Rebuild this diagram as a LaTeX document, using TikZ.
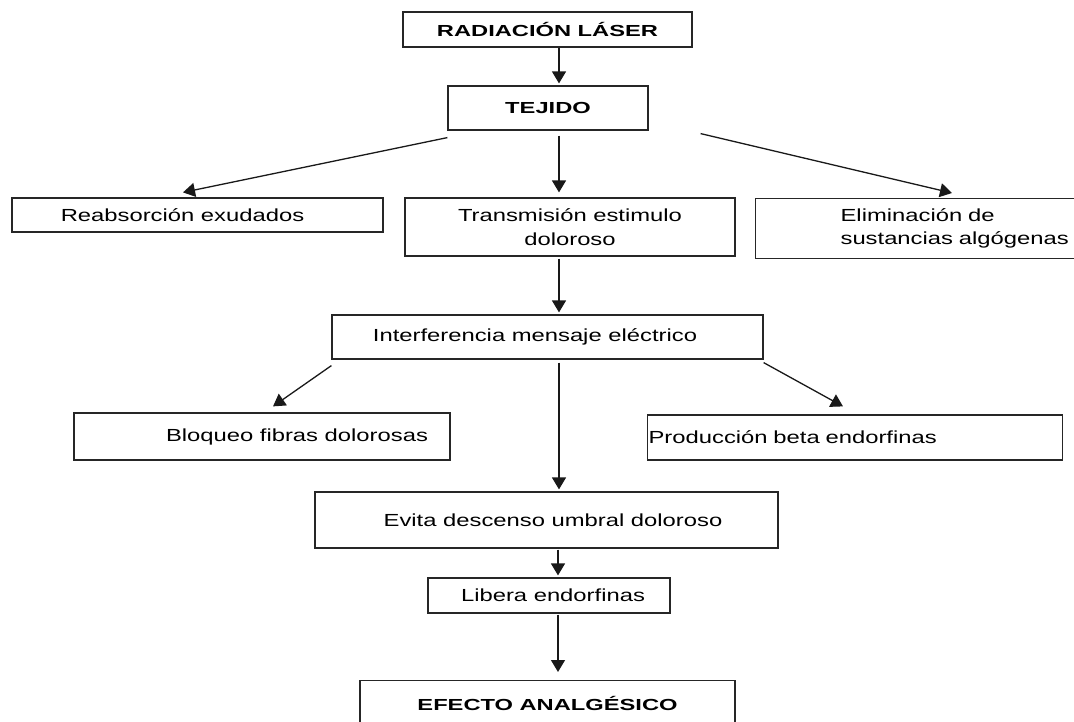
\documentclass[tikz,border=0pt]{standalone}
\usepackage{fontspec}
\setmainfont{Liberation Sans}[FakeStretch=1.36]
\newfontfamily\headfont{Liberation Sans}[FakeStretch=1.48]
\usetikzlibrary{arrows.meta}
\begin{document}
\begin{tikzpicture}[x=1pt,y=-1pt,
  box/.style={draw=black!85, line width=1.2pt, rectangle, inner sep=0pt, text=black,
    font=\fontsize{17.5}{24}\selectfont},
  head/.style={box, font=\headfont\bfseries\fontsize{16}{19}\selectfont},
  arr/.style={draw=black!90, line width=1.3pt, -{Triangle[length=12pt,width=14pt]}}]
\useasboundingbox (0,0) rectangle (1074,722);
\node[head, minimum width=289pt, minimum height=35pt] (rad) at (547.5,29.5) {RADIACIÓN LÁSER};
\node[head, minimum width=200pt, minimum height=44pt] (tej) at (548,108) {TEJIDO};
\node[box, minimum width=371pt, minimum height=34pt] (reab) at (197.5,215) {Reabsorción exudados\hspace*{30pt}};
\node[box, minimum width=330pt, minimum height=58pt, align=center] (trans) at (570,227) {Transmisión estimulo\\doloroso};
\node[box, anchor=north west, text width=345pt, minimum height=60pt, align=left,
  font=\fontsize{17.5}{23}\selectfont] (elim) at (755,198) {\hspace*{85pt}Eliminación de\\\hspace*{85pt}sustancias algógenas};
\node[box, minimum width=431pt, minimum height=44pt] (interf) at (547.5,337) {Interferencia mensaje eléctrico\hspace*{25pt}};
\node[box, minimum width=376pt, minimum height=47pt] (bloq) at (262,436.5) {\hspace*{70pt}Bloqueo fibras dolorosas};
\node[box, anchor=west, text width=415pt, minimum height=45pt, align=left] (prod) at (647,437.5) {\hspace*{1pt}Producción beta endorfinas};
\node[box, minimum width=463pt, minimum height=56pt] (evita) at (546.5,520) {\hspace*{13pt}Evita descenso umbral doloroso};
\node[box, minimum width=242pt, minimum height=35pt] (lib) at (549,595.5) {\hspace*{8pt}Libera endorfinas};
\node[head, anchor=north, minimum width=375pt, minimum height=45pt] (efe) at (547.5,680) {EFECTO ANALGÉSICO};
\draw[arr] ([xshift=11.5pt]rad.south) -- ([xshift=11pt,yshift=2pt]tej.north);
\draw[arr] ([yshift=-7pt]tej.south west) -- ([xshift=-14.5pt,yshift=5pt]reab.north);
\draw[arr] ([xshift=11pt,yshift=-5pt]tej.south) -- ([xshift=-11pt,yshift=5pt]trans.north);
\draw[arr] ([xshift=52pt,yshift=-3pt]tej.south east) -- ([xshift=197pt,yshift=5pt]elim.north west);
\draw[arr] ([xshift=-11pt,yshift=-2pt]trans.south) -- ([xshift=11.5pt,yshift=2pt]interf.north);
\draw[arr] ([yshift=-6pt]interf.south west) -- ([xshift=11pt,yshift=6pt]bloq.north);
\draw[arr] ([xshift=11.5pt,yshift=-3pt]interf.south) -- ([xshift=12.5pt,yshift=2pt]evita.north);
\draw[arr] ([yshift=-3pt]interf.south east) -- ([xshift=196pt,yshift=8pt]prod.north west);
\draw[arr] ([xshift=11.5pt,yshift=-1pt]evita.south) -- ([xshift=9pt,yshift=2pt]lib.north);
\draw[arr] ([xshift=9pt,yshift=-1pt]lib.south) -- ([xshift=10.5pt,yshift=8pt]efe.north);
\end{tikzpicture}
\end{document}
